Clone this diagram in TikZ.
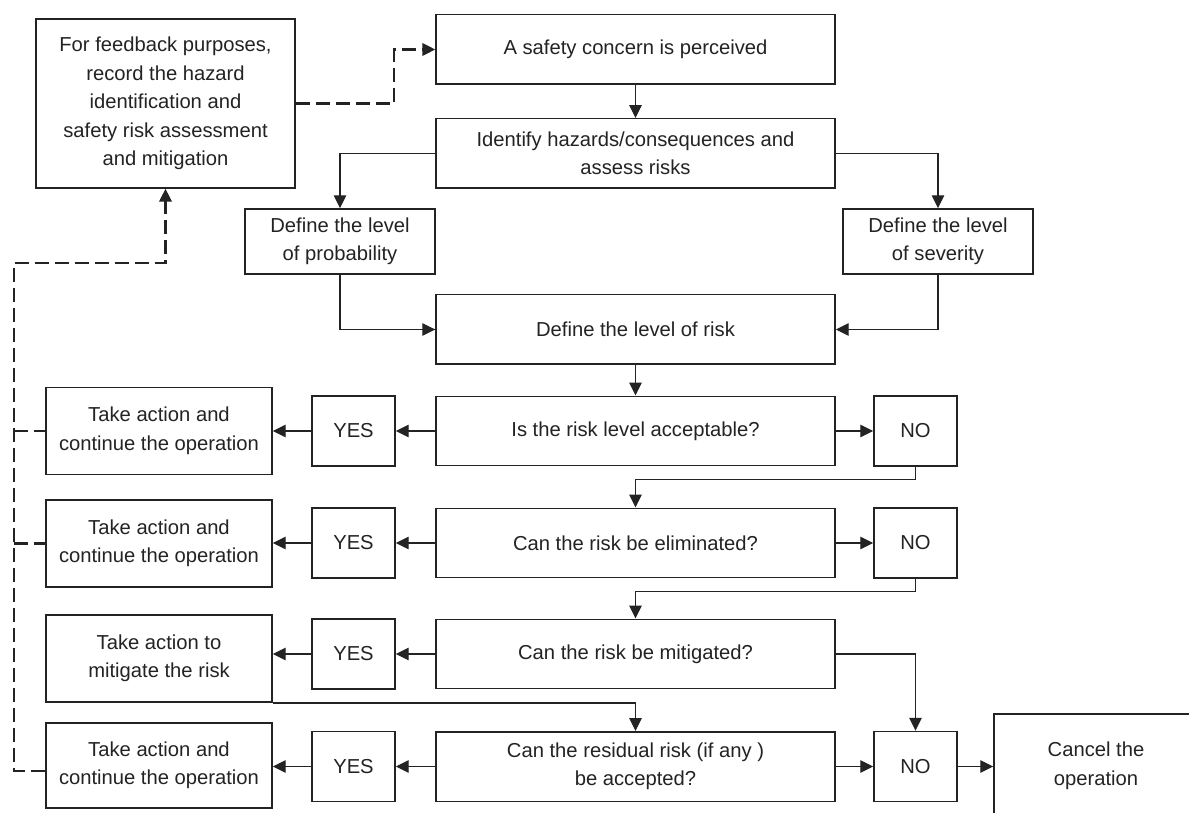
\documentclass[tikz,border=0pt]{standalone}
\usepackage{fontspec}
\setmainfont{Liberation Sans}
\usetikzlibrary{arrows.meta,calc}
\definecolor{ink}{RGB}{35,35,35}
\begin{document}
\begin{tikzpicture}[x=0.02cm,y=-0.02cm,
  font=\fontsize{11.5}{16.2}\selectfont,
  box/.style={draw=ink, line width=0.85pt, align=center, text=ink, inner sep=0pt},
  main/.style={box, minimum width=7.98cm, minimum height=1.39cm},
  ans/.style={box, minimum width=1.66cm, minimum height=1.4cm},
  act/.style={box, minimum width=4.52cm, minimum height=1.75cm},
  side/.style={box, minimum width=3.8cm, minimum height=1.3cm},
  flow/.style={draw=ink, line width=0.7pt, -{Triangle[length=0.26cm,width=0.25cm]}},
  fb/.style={draw=ink, line width=1.3pt, dash pattern=on 0.28cm off 0.12cm},
  fbflow/.style={fb, -{Triangle[length=0.26cm,width=0.25cm]}},
]
\useasboundingbox (0,0) rectangle (1189,813);
\clip (0,0) rectangle (1189,813);
\fill[white] (0,0) rectangle (1189,813);

% top of the process
\node[box, minimum width=5.18cm, minimum height=3.38cm] (feed) at (165.5,103.5)
  {For feedback purposes,\\record the hazard\\identification and\\safety risk assessment\\and mitigation};
\node[main] (concern) at (635.5,49.5) {A safety concern is perceived};
\node[main] (ident) at (635.5,153.5) {Identify hazards/consequences and\\assess risks};
\node[side] (prob) at (340,241.5) {Define the level\\of probability};
\node[side] (sev) at (938,241.5) {Define the level\\of severity};
\node[main] (risk) at (635.5,329.5) {Define the level of risk};

% decision rows
\node[main] (q1) at (635.5,431) {Is the risk level acceptable?};
\node[ans] (yes1) at (353.5,431) {YES};
\node[act] (act1) at (159,431) {Take action and\\continue the operation};
\node[ans] (no1) at (915.5,431) {NO};

\node[main] (q2) at (635.5,543) {Can the risk be eliminated?};
\node[ans] (yes2) at (353.5,543) {YES};
\node[act] (act2) at (159,543.5) {Take action and\\continue the operation};
\node[ans] (no2) at (915.5,543) {NO};

\node[main] (q3) at (635.5,654) {Can the risk be mitigated?};
\node[ans] (yes3) at (353.5,654) {YES};
\node[act] (act3) at (159,658.5) {Take action to\\mitigate the risk};

\node[main] (q4) at (635.5,766.5) {Can the residual risk (if any )\\be accepted?};
\node[ans] (yes4) at (353.5,766.5) {YES};
\node[act, minimum height=1.7cm] (act4) at (159,765.5) {Take action and\\continue the operation};
\node[ans] (no4) at (915.5,766.5) {NO};
\node[box, minimum width=4.08cm, minimum height=2.08cm] (cancel) at (1096,766) {Cancel the\\operation};

% main flow
\draw[flow] (concern) -- (ident);
\draw[flow] (ident.west) -| (prob.north);
\draw[flow] (ident.east) -| (sev.north);
\draw[flow] (prob.south) |- (risk.west);
\draw[flow] (sev.south) |- (risk.east);
\draw[flow] (risk) -- (q1);

\foreach \r in {1,2,3,4}{
  \draw[flow] (q\r.west) -- (yes\r.east);
  \draw[flow] (yes\r.west) -- (yes\r.west -| act\r.east);
}
\draw[flow] (q1.east) -- (no1.west);
\draw[flow] (q2.east) -- (no2.west);
\draw[flow] (q4.east) -- (no4.west);
\draw[flow] (no4.east) -- (cancel.west |- no4.east);

\draw[flow] (no1.south) -- ++(0,13) -| (q2.north);
\draw[flow] (no2.south) -- ++(0,13) -| (q3.north);
\draw[flow] (q3.east) -| (no4.north);
\draw[flow] (act3.south east) -| (q4.north);

% feedback loop
\coordinate (trunk) at (14,263);
\coordinate (trunkend) at (14,771);
\draw[fbflow] (feed.east) -- ++(98,0) |- (concern.west);
\draw[fbflow] (act4.west |- trunkend) -- (trunkend) -- (trunk) -| (feed.south);
\draw[fb] (act1.west -| trunk) -- (act1.west);
\draw[fb] (act2.west -| trunk) -- (act2.west);
\end{tikzpicture}
\end{document}
